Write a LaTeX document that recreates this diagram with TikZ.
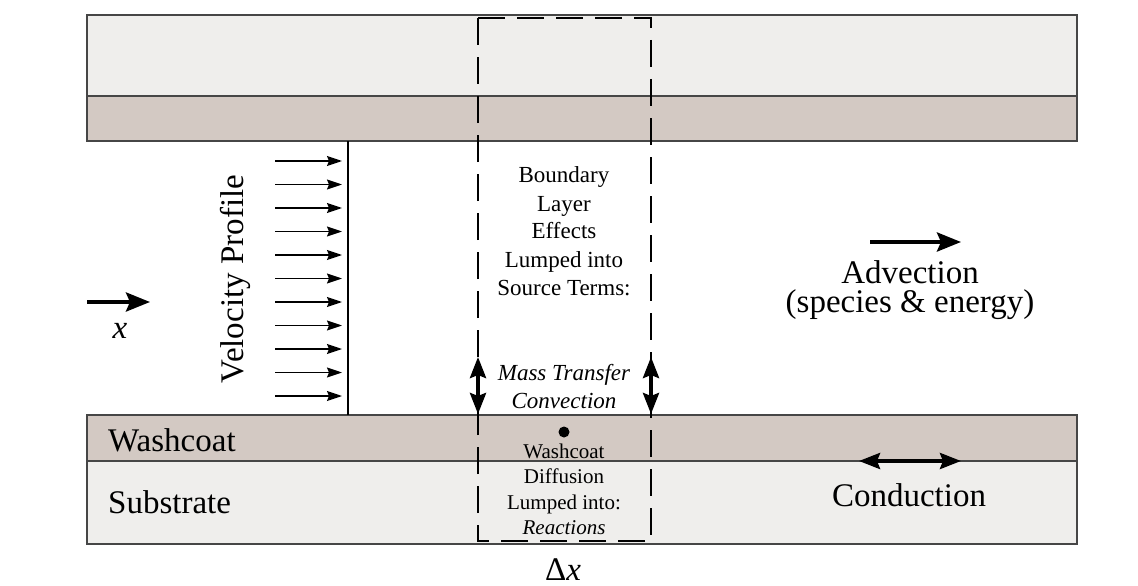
\documentclass[tikz,border=0pt]{standalone}
\usepackage{fontspec}
\setmainfont{Liberation Serif}
\usetikzlibrary{arrows.meta}
\definecolor{subcol}{RGB}{239,238,236}
\definecolor{washcol}{RGB}{211,201,195}
\definecolor{edgecol}{RGB}{70,70,70}
\newcommand\advfont{\fontsize{33}{29}\selectfont\lineskiplimit=-50pt\relax}
\tikzset{
  layer/.style={draw=edgecol, line width=1.2pt},
  velarrow/.style={line width=1.4pt, -{Stealth[length=15pt,width=10pt,inset=2pt]}},
  bigarrow/.style={line width=4pt, -{Stealth[length=24pt,width=19pt,inset=4pt]}},
  dblarrow/.style={line width=3.8pt, {Stealth[length=21pt,width=16pt,inset=3pt]}-{Stealth[length=21pt,width=16pt,inset=3pt]}},
  boxdash/.style={line width=2pt, dash pattern=on 27pt off 12pt},
  big/.style={font=\fontsize{33}{40}\selectfont, inner sep=0pt},
  mid/.style={font=\fontsize{23}{28}\selectfont, inner sep=0pt, anchor=base},
  low/.style={font=\fontsize{21}{25}\selectfont, inner sep=0pt, anchor=base},
}
\begin{document}
\begin{tikzpicture}[x=1pt,y=-1pt]
\useasboundingbox (0,0) rectangle (1138,586);
\fill[white] (0,0) rectangle (1138,586);
% layers
\filldraw[layer, fill=subcol] (87,15) rectangle (1077,96);
\filldraw[layer, fill=washcol] (87,96) rectangle (1077,141);
\filldraw[layer, fill=washcol] (87,415) rectangle (1077,461);
\filldraw[layer, fill=subcol] (87,461) rectangle (1077,544);
% velocity profile
\coordinate (vtop) at (348,141);
\coordinate (vbot) at (348,415);
\draw[line width=2pt] (vtop) -- (vbot);
\foreach \i in {0,...,10}{
  \coordinate (vs\i) at (275,{161+23.5*\i});
  \coordinate (ve\i) at (342,{161+23.5*\i});
  \draw[velarrow] (vs\i) -- (ve\i);
}
\node[big, rotate=90] (vp) at (235,279) {Velocity Profile};
% x arrow
\coordinate (xs) at (87,302);
\coordinate (xe) at (150,302);
\draw[bigarrow] (xs) -- (xe);
\node[big, anchor=base] (xl) at (120,338) {\itshape x};
% dashed control volume
\draw[boxdash] (478,18) -- (651,18) -- (651,541) -- (478,541) -- cycle;
% mass transfer arrows
\coordinate (m1t) at (478,357);
\coordinate (m1b) at (478,414);
\coordinate (m2t) at (651,357);
\coordinate (m2b) at (651,414);
\draw[dblarrow] (m1t) -- (m1b);
\draw[dblarrow] (m2t) -- (m2b);
% box text
\node[mid] (b1) at (564,182) {Boundary};
\node[mid] (b2) at (564,211) {Layer};
\node[mid] (b3) at (564,238) {Effects};
\node[mid] (b4) at (564,267) {Lumped into};
\node[mid] (b5) at (564,295) {Source Terms:};
\node[mid] (m1) at (564,380) {\itshape Mass Transfer};
\node[mid] (m2) at (564,408) {\itshape Convection};
\fill (564,432) circle (5.5pt);
\node[low] (w1) at (564,458) {Washcoat};
\node[low] (w2) at (564,483) {Diffusion};
\node[low] (w3) at (564,509) {Lumped into:};
\node[low] (w4) at (564,534) {\itshape Reactions};
\node[big, anchor=base] (dx) at (563,580) {Δ\textit{x}};
% layer labels
\node[big, anchor=base west] (wl) at (108,451) {Washcoat};
\node[big, anchor=base west] (sl) at (108,513) {Substrate};
% advection
\coordinate (as) at (870,242);
\coordinate (ae) at (961,242);
\draw[bigarrow] (as) -- (ae);
\node[font=\advfont, inner sep=0pt, align=center, anchor=north] (adv) at (910,260) {Advection\\(species \& energy)};
% conduction
\coordinate (cs) at (859,461);
\coordinate (ce) at (961,461);
\draw[dblarrow] (cs) -- (ce);
\node[big, anchor=base] (cond) at (909,506) {Conduction};
\end{tikzpicture}
\end{document}
